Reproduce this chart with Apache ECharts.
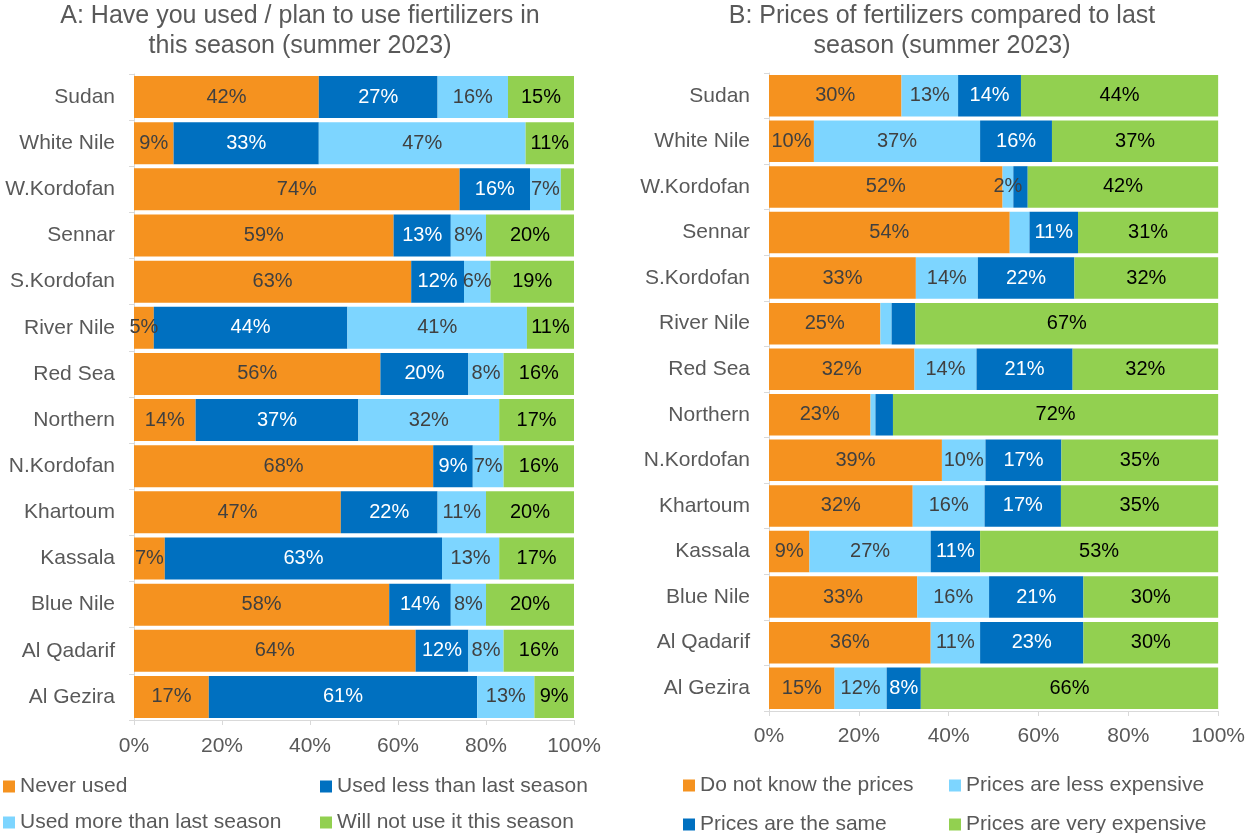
<!DOCTYPE html>
<html>
<head>
<meta charset="utf-8">
<script src="https://cdn.jsdelivr.net/npm/echarts@6/dist/echarts.min.js"></script>
<style>
html,body{margin:0;padding:0;background:#fff;}
#chart{width:1248px;height:833px;}
</style>
</head>
<body>
<div id="chart"></div>
<script>
// ---- Chart A data ----
const categoriesA = ['Sudan','White Nile','W.Kordofan','Sennar','S.Kordofan','River Nile','Red Sea','Northern','N.Kordofan','Khartoum','Kassala','Blue Nile','Al Qadarif','Al Gezira'];
const seriesNamesA = ['Never used','Used less than last season','Used more than last season','Will not use it this season'];
const neverUsed   = [42, 9, 74, 59, 63, 4.5, 56, 14, 68, 47, 7, 58, 64, 17];
const usedLess    = [27, 33, 16, 13, 12, 44, 20, 37, 9, 22, 63, 14, 12, 61];
const usedMore    = [16, 47, 7, 8, 6, 40.8, 8, 32, 7, 11, 13, 8, 8, 13];
const willNotUse  = [15, 11, 3, 20, 19, 10.7, 16, 17, 16, 20, 17, 20, 16, 9];
const unlabeledA  = ['W.Kordofan|Will not use it this season'];

// ---- Chart B data ----
const categoriesB = ['Sudan','White Nile','W.Kordofan','Sennar','S.Kordofan','River Nile','Red Sea','Northern','N.Kordofan','Khartoum','Kassala','Blue Nile','Al Qadarif','Al Gezira'];
const seriesNamesB = ['Do not know the prices','Prices are less expensive','Prices are the same','Prices are very expensive'];
const dontKnow      = [29.5, 10, 52, 53.6, 32.7, 24.8, 32.4, 22.6, 38.5, 32, 9, 33, 36, 14.6];
const lessExpensive = [12.6, 37, 2.4, 4.4, 13.8, 2.5, 13.8, 1.1, 9.7, 16, 27, 16, 11, 11.6];
const sameP         = [14, 16, 3.2, 10.8, 21.5, 5.3, 21.4, 3.9, 16.9, 17, 11, 21, 23, 7.6];
const veryExpensive = [43.9, 37, 42.4, 31.2, 32, 67.4, 32.4, 72.4, 34.9, 35, 53, 30, 30, 66.2];
const unlabeledB = ['W.Kordofan|Prices are the same','Sennar|Prices are less expensive','River Nile|Prices are less expensive','River Nile|Prices are the same','Northern|Prices are less expensive','Northern|Prices are the same'];

const xTicks = [0, 20, 40, 60, 80, 100];

const FONT = '"Liberation Sans", Arial, sans-serif';
const colors = ['#F5921F', '#0070C0', '#7DD5FF', '#92D050'];
const labelColors = ['#404040', '#FFFFFF', '#404040', '#000000'];
const colorsB = ['#F5921F', '#7DD5FF', '#0070C0', '#92D050'];
const labelColorsB = ['#404040', '#404040', '#FFFFFF', '#000000'];
const GRAY_TEXT = '#595959';
const AXIS_COLOR = '#D9D9D9';

function makeSeries(names, arrays, cols, lcols, axisIdx, hidden, cats) {
  return names.map((n, i) => ({
    name: n,
    type: 'bar',
    stack: 'stack' + axisIdx,
    xAxisIndex: axisIdx,
    yAxisIndex: axisIdx,
    data: arrays[i],
    barCategoryGap: '9%',
    itemStyle: { color: cols[i] },
    label: {
      show: true,
      position: 'inside',
      color: lcols[i],
      fontSize: 20,
      fontFamily: FONT,
      formatter: p => hidden.indexOf(cats[p.dataIndex] + '|' + n) >= 0 ? '' : Math.round(p.value) + '%'
    },
    emphasis: { disabled: true },
    animation: false
  }));
}

function xAxisCfg(idx, margin) {
  return {
    type: 'value', gridIndex: idx, min: 0, max: 100, interval: 20,
    axisLine: { show: true, lineStyle: { color: AXIS_COLOR, width: 1 } },
    axisTick: { show: true, length: 5, lineStyle: { color: AXIS_COLOR } },
    splitLine: { show: false },
    axisLabel: { formatter: v => (xTicks.indexOf(v) >= 0 ? v + '%' : ''), fontSize: 21, color: GRAY_TEXT, fontFamily: FONT, margin: margin }
  };
}
function yAxisCfg(idx, cats) {
  return {
    type: 'category', gridIndex: idx, data: cats, inverse: true,
    axisLine: { show: true, lineStyle: { color: AXIS_COLOR, width: 1 } },
    axisTick: { show: true, length: 5, lineStyle: { color: AXIS_COLOR } },
    axisLabel: { fontSize: 21, color: GRAY_TEXT, fontFamily: FONT, margin: 19 }
  };
}
function legendCfg(name, left, top) {
  return {
    data: [name], left: left, top: top, padding: 0, icon: 'rect',
    itemWidth: 12, itemHeight: 12,
    textStyle: { fontSize: 21, color: GRAY_TEXT, fontFamily: FONT },
    selectedMode: false
  };
}
function titleCfg(text, x, top) {
  return { text: text, left: x, top: top, textAlign: 'center', padding: 0,
    textStyle: { fontSize: 25, fontWeight: 'normal', color: GRAY_TEXT, fontFamily: FONT } };
}

const chart = echarts.init(document.getElementById('chart'), null, { renderer: 'canvas' });
chart.setOption({
  animation: false,
  backgroundColor: '#FFFFFF',
  title: [
    titleCfg('A: Have you used / plan to use fiertilizers in', 300, 4),
    titleCfg('this season (summer 2023)', 300, 34),
    titleCfg('B: Prices of fertilizers compared to last', 942, 4),
    titleCfg('season (summer 2023)', 942, 34)
  ],
  legend: [
    legendCfg(seriesNamesA[0], 3, 776),
    legendCfg(seriesNamesA[1], 320, 776),
    legendCfg(seriesNamesA[2], 3, 812),
    legendCfg(seriesNamesA[3], 320, 812),
    legendCfg(seriesNamesB[0], 683, 775),
    legendCfg(seriesNamesB[1], 949, 775),
    legendCfg(seriesNamesB[2], 683, 814),
    legendCfg(seriesNamesB[3], 949, 814)
  ],
  grid: [
    { left: 134, top: 74, width: 440, height: 646 },
    { left: 769, top: 73, width: 453, height: 638 }
  ],
  xAxis: [xAxisCfg(0, 16), xAxisCfg(1, 15)],
  yAxis: [yAxisCfg(0, categoriesA), yAxisCfg(1, categoriesB)],
  series: [].concat(
    makeSeries(seriesNamesA, [neverUsed, usedLess, usedMore, willNotUse], colors, labelColors, 0, unlabeledA, categoriesA),
    makeSeries(seriesNamesB, [dontKnow, lessExpensive, sameP, veryExpensive], colorsB, labelColorsB, 1, unlabeledB, categoriesB)
  )
});
</script>
</body>
</html>
